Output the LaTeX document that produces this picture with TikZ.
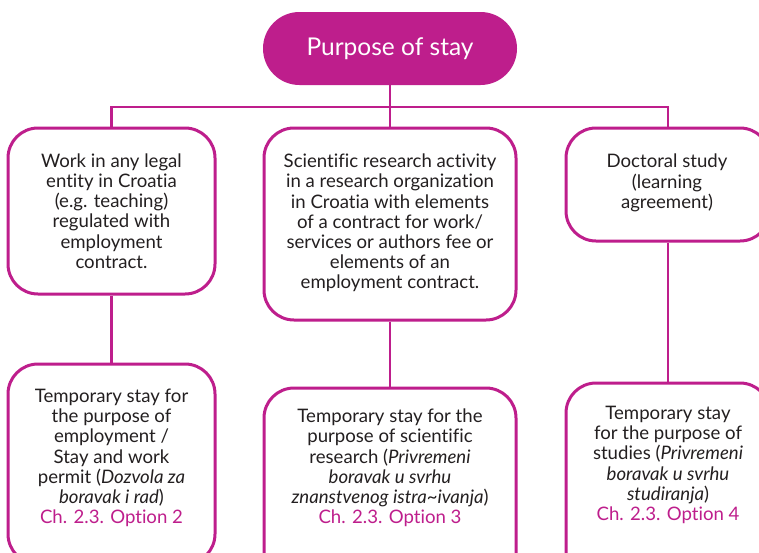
\documentclass[tikz,border=0pt]{standalone}
\usepackage{fontspec}
\setmainfont{Lato}[Ligatures={NoCommon}]
\definecolor{mag}{RGB}{190,30,140}
\definecolor{ink}{RGB}{35,31,32}
\begin{document}
\begin{tikzpicture}[x=1pt,y=-1pt,
  box/.style={draw=mag, line width=3pt, rounded corners=30pt, fill=white, inner sep=0pt},
  txt/.style={align=center, text=ink, font=\fontsize{18.6}{20.2}\selectfont, inner sep=0pt},
  pill/.style={fill=mag, rounded corners=36.5pt, text=white,
    font=\fontsize{24.5}{28}\selectfont, minimum width=254pt, minimum height=73pt, inner sep=0pt},
  link/.style={draw=mag, line width=2.8pt}]
\useasboundingbox (0,0) rectangle (759,552);
\clip (0,0) rectangle (759,552);
\fill[white] (0,0) rectangle (759,552);

\node[pill] (top) at (390,48.5) {Purpose of stay};

\node[box, minimum width=207pt, minimum height=166pt] (l1) at (111.5,211) {};
\node[txt] (l1t) at (111.5,211)
  {Work in any legal\\entity in Croatia\\(e.g. teaching)\\regulated with\\employment\\contract.};
\node[box, minimum width=252pt, minimum height=192pt] (m1) at (390,224) {};
\node[txt] (m1t) at (390,223)
  {Scientific research activity\\in a research organization\\in Croatia with elements\\of a contract for work/\\services or authors fee or\\elements of an\\employment contract.};
\node[box, minimum width=204pt, minimum height=113pt] (r1) at (668,184.5) {};
\node[txt] (r1t) at (667,183)
  {Doctoral study\\(learning\\agreement)};

\node[box, minimum width=207pt, minimum height=200pt] (l2) at (111.5,464) {};
\node[txt] (l2t) at (111.5,458)
  {Temporary stay for\\the purpose of\\employment /\\Stay and work\\permit (\textit{Dozvola za}\\\textit{boravak i rad})\\{\color{mag}Ch. 2.3. Option 2}};
\node[box, minimum width=252pt, minimum height=200pt] (m2) at (390,488) {};
\node[txt] (m2t) at (390,468)
  {Temporary stay for the\\purpose of scientific\\research (\textit{Privremeni}\\\textit{boravak u svrhu}\\\textit{znanstvenog istra\textasciitilde ivanja})\\{\color{mag}Ch. 2.3. Option 3}};
\node[box, minimum width=204pt, minimum height=200pt] (r2) at (668,483) {};
\node[txt] (r2t) at (668,465)
  {Temporary stay\\for the purpose of\\studies (\textit{Privremeni}\\\textit{boravak u svrhu}\\\textit{studiranja})\\{\color{mag}Ch. 2.3. Option 4}};

\coordinate (bar) at (390,107);
\draw[link] (top.south) -- (m1.north);
\draw[link] (l1.north) -- (l1.north |- bar) -- (r1.north |- bar) -- (r1.north);
\draw[link] (l1.south) -- (l2.north);
\draw[link] (m1.south) -- (m2.north);
\draw[link] (r1.south) -- (r2.north);
\end{tikzpicture}
\end{document}
